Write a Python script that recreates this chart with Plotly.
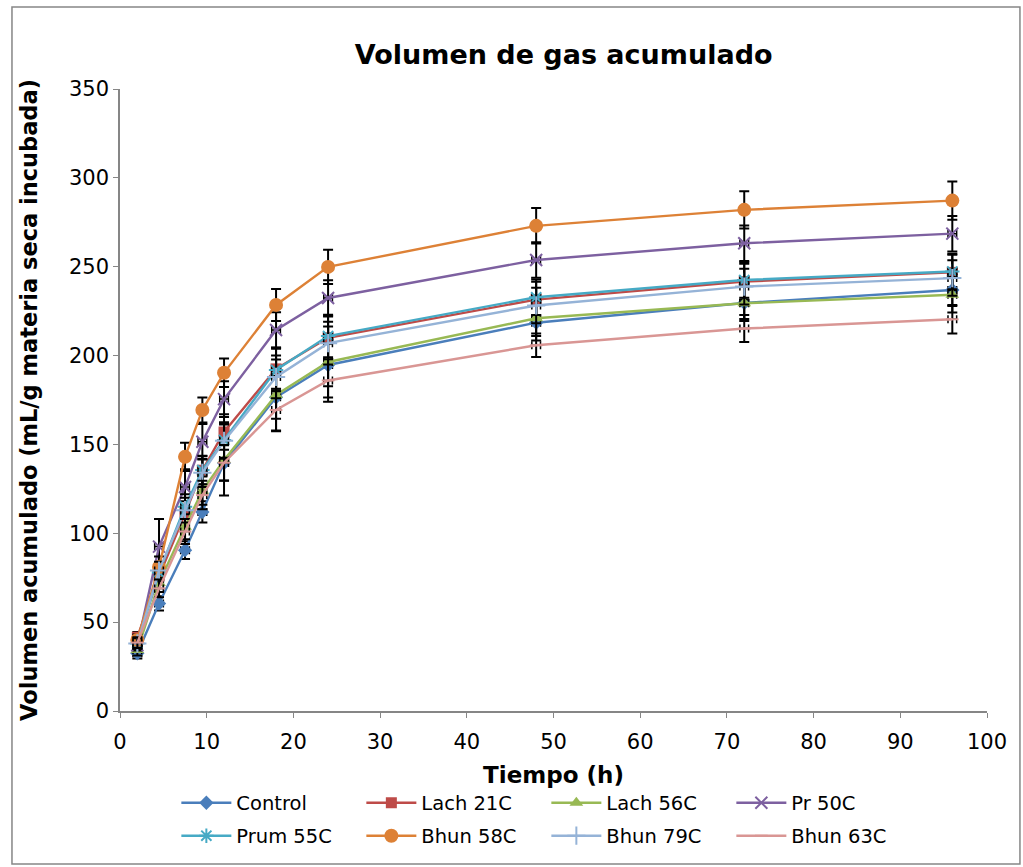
import plotly.graph_objects as go

tiempo = [2, 4.5, 7.5, 9.5, 12, 18, 24, 48, 72, 96]

names = ["Control", "Lach 21C", "Lach 56C", "Pr 50C", "Prum 55C", "Bhun 58C", "Bhun 79C", "Bhun 63C"]

control   = [32.5, 60.5, 90.5, 112, 139.5, 176.5, 194.7, 218.5, 229.6, 236.9]
lach21c   = [41.5, 76, 111, 135.5, 157, 192.5, 210, 231.5, 241.6, 246.8]
lach56c   = [34.3, 72, 103.7, 124, 141.2, 177.8, 196.4, 221, 229.4, 234.2]
pr50c     = [37, 92.5, 126, 151.5, 175.5, 214.4, 232.4, 253.8, 263.2, 268.6]
prum55c   = [38, 78, 115, 135.6, 152.5, 191.9, 211, 232.8, 242.5, 247.3]
bhun58c   = [40, 81, 143, 169.4, 190.3, 228.5, 249.9, 273, 282, 287.2]
bhun79c   = [38, 79, 113, 134, 152, 188, 207, 228.2, 238.8, 243.6]
bhun63c   = [38.5, 69, 101, 121.5, 139.7, 169.4, 186, 205.8, 215.2, 220.4]

err_control = [3, 4, 5, 6, 10, 12, 12, 10, 9, 9]
err_lach21c = [3, 5, 7, 8, 10, 12, 12, 10, 10, 10]
err_lach56c = [3, 5, 7, 8, 20, 20, 20, 10, 10, 10]
err_pr50c   = [3, 15.5, 10, 10, 10, 10, 10, 10, 10, 10]
err_prum55c = [3, 5, 7, 8, 10, 12, 12, 10, 10, 10]
err_bhun58c = [3, 6, 8, 7, 8, 9, 9.6, 10, 10.5, 10.8]
err_bhun79c = [3, 5, 7, 8, 10, 12, 12, 10, 10, 10]
err_bhun63c = [3, 5, 7, 8, 10, 12, 12, 6.6, 7.6, 8]
err_tiempo  = [0.5] * len(tiempo)

series = [control, lach21c, lach56c, pr50c, prum55c, bhun58c, bhun79c, bhun63c]
errors = [err_control, err_lach21c, err_lach56c, err_pr50c, err_prum55c, err_bhun58c, err_bhun79c, err_bhun63c]
colors = ["#4A7EBB", "#BE4B48", "#98B954", "#7D60A0", "#46AAC5", "#DD8136", "#95B3D7", "#D99694"]
symbols = ["diamond", "square", "triangle-up", "x-thin-open", "asterisk-open", "circle", "cross-thin-open", "line-ew-open"]
sizes = [11, 11, 12, 12, 12, 14, 13, 9]

fig = go.Figure()
for i, (name, vals, errs, col, sym, sz) in enumerate(zip(names, series, errors, colors, symbols, sizes)):
    open_sym = sym.endswith("open")
    fig.add_trace(go.Scatter(
        x=tiempo, y=vals, name=name, mode="lines+markers",
        legend="legend" if i < 4 else "legend2",
        line=dict(color=col, width=2.4),
        marker=dict(symbol=sym, size=sz, color=col,
                    line=dict(color=col, width=2 if open_sym else 0)),
        error_y=dict(type="data", array=errs, visible=True, color="black", thickness=2, width=5),
        error_x=dict(type="data", array=err_tiempo, visible=True, color="black", thickness=1.5, width=4),
    ))

font = "DejaVu Sans, Verdana, sans-serif"
leg_common = dict(orientation="h", x=0.065, xanchor="left", yanchor="middle",
                  entrywidth=120, entrywidthmode="pixels", font=dict(size=19.5, family=font),
                  itemwidth=50, bgcolor="rgba(0,0,0,0)")
fig.update_layout(
    width=1023, height=867,
    paper_bgcolor="white", plot_bgcolor="white",
    margin=dict(l=120, r=36, t=89, b=156),
    font=dict(family=font, size=21, color="black"),
    title=dict(text="<b>Volumen de gas acumulado</b>", x=0.551, xanchor="center",
               y=0.937, yanchor="middle", font=dict(size=27, family=font)),
    showlegend=True,
    legend=dict(y=-0.148, **leg_common),
    legend2=dict(y=-0.201, **leg_common),
    xaxis=dict(range=[0, 100], dtick=10, showgrid=False, zeroline=False,
               showline=True, linecolor="#868686", linewidth=1.5,
               ticks="outside", ticklen=5, tickcolor="#868686",
               tickfont=dict(size=21), automargin=False, ticklabelstandoff=6,
               title=dict(text="<b>Tiempo (h)</b>", font=dict(size=23), standoff=14)),
    yaxis=dict(range=[0, 350], dtick=50, showgrid=False, zeroline=False,
               showline=True, linecolor="#868686", linewidth=1.5,
               ticks="outside", ticklen=5, tickcolor="#868686",
               tickfont=dict(size=21), automargin=False,
               title=dict(text="<b>Volumen acumulado (mL/g materia seca incubada)</b>",
                          font=dict(size=22.5), standoff=25)),
    shapes=[dict(type="rect", xref="paper", yref="paper",
                 x0=-0.1246, x1=1.038, y0=-0.246, y1=1.132,
                 line=dict(color="#868686", width=1.5), fillcolor="rgba(0,0,0,0)", layer="below")],
)

fig.write_html("out.html")
